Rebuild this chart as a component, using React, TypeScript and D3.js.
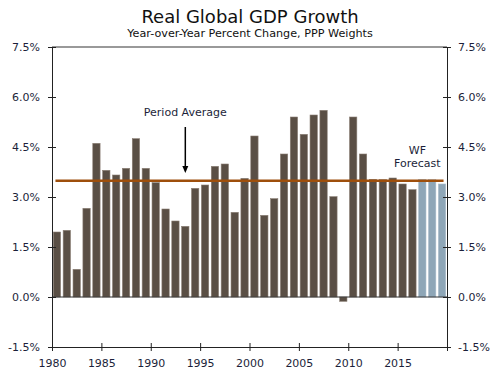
import React, { useEffect, useRef } from 'react';
import * as d3 from 'd3';

// yearly real global GDP growth (%), PPP weights
const years = d3.range(1980, 2020);
const growth = [
  1.95, 2.0, 0.83, 2.66, 4.61, 3.8, 3.66, 3.86, 4.75, 3.86,
  3.43, 2.64, 2.28, 2.12, 3.26, 3.36, 3.92, 3.99, 2.54, 3.56,
  4.83, 2.45, 2.95, 4.29, 5.4, 4.88, 5.46, 5.6, 3.01, -0.13,
  5.4, 4.29, 3.53, 3.52, 3.57, 3.39, 3.22, 3.53, 3.52, 3.39,
];
const forecastStart = 2017;
const periodAverage = 3.49;
const yTicks = [-1.5, 0, 1.5, 3, 4.5, 6, 7.5];
const xTicks = [1980, 1985, 1990, 1995, 2000, 2005, 2010, 2015, 2020];

const App = () => {
  const svgRef = useRef(null);

  useEffect(() => {
    const svg = d3.select(svgRef.current);
    svg.selectAll('*').remove();

    const width = 500;
    const height = 369;
    const margin = { top: 47, right: 53, bottom: 22, left: 52 };
    const innerW = width - margin.left - margin.right;
    const innerH = height - margin.top - margin.bottom;
    const font = 'DejaVu Sans, Verdana, sans-serif';
    const textColor = '#1c1f3a';

    svg.attr('width', width).attr('height', height).style('background', 'white');

    svg
      .append('text')
      .attr('x', 250)
      .attr('y', 23)
      .attr('text-anchor', 'middle')
      .attr('font-family', font)
      .attr('font-size', 18)
      .attr('fill', '#111')
      .text('Real Global GDP Growth');

    svg
      .append('text')
      .attr('x', 250)
      .attr('y', 37)
      .attr('text-anchor', 'middle')
      .attr('font-family', font)
      .attr('font-size', 11.2)
      .attr('fill', '#111')
      .text('Year-over-Year Percent Change, PPP Weights');

    const g = svg.append('g').attr('transform', `translate(${margin.left},${margin.top})`);

    const x = d3.scaleLinear().domain([1980, 2020]).range([0, innerW]);
    const band = d3
      .scaleBand()
      .domain(years.map(String))
      .range([0, innerW])
      .paddingInner(0.26)
      .paddingOuter(0.13);
    const y = d3.scaleLinear().domain([-1.5, 7.5]).range([innerH, 0]);

    // bars
    g.selectAll('.bar')
      .data(years)
      .enter()
      .append('rect')
      .attr('class', 'bar')
      .attr('x', (d) => band(String(d)))
      .attr('width', band.bandwidth())
      .attr('y', (d, i) => y(Math.max(0, growth[i])))
      .attr('height', (d, i) => Math.abs(y(growth[i]) - y(0)))
      .attr('fill', (d) => (d >= forecastStart ? '#8ea6b7' : '#5a4f45'))
      .attr('stroke', (d) => (d >= forecastStart ? '#a9bccb' : '#8a7e74'))
      .attr('stroke-width', 0.6);

    // zero line
    g.append('line')
      .attr('x1', 0)
      .attr('x2', innerW)
      .attr('y1', y(0))
      .attr('y2', y(0))
      .attr('stroke', '#333')
      .attr('stroke-width', 1);

    // period average
    g.append('line')
      .attr('x1', x(1980.35))
      .attr('x2', x(2019.65))
      .attr('y1', y(periodAverage))
      .attr('y2', y(periodAverage))
      .attr('stroke', '#9e4f0c')
      .attr('stroke-width', 2.5);

    // top frame
    g.append('line')
      .attr('x1', 0).attr('x2', innerW)
      .attr('y1', 0).attr('y2', 0)
      .attr('stroke', '#777').attr('stroke-width', 1.5);

    const xAxis = d3
      .axisBottom(x)
      .tickValues(xTicks)
      .tickSize(7)
      .tickSizeOuter(0)
      .tickFormat((d) => (d === 2020 ? '' : String(d)));
    const xg = g.append('g').attr('transform', `translate(0,${innerH})`).call(xAxis);
    xg.selectAll('.tick line').attr('y1', -4).attr('y2', 4).attr('stroke', '#222');
    xg.select('.domain').attr('stroke', '#222');
    xg.selectAll('text')
      .attr('y', 12)
      .attr('font-family', font)
      .attr('font-size', 11)
      .attr('fill', textColor);

    const fmt = (d) => `${d < 0 ? '-' : ''}${Math.abs(d).toFixed(1)}%`;
    const yl = g.append('g').call(d3.axisLeft(y).tickValues(yTicks).tickSize(4).tickSizeOuter(0).tickFormat(fmt));
    yl.selectAll('.tick line').attr('x1', -4).attr('x2', 4).attr('stroke', '#222');
    yl.select('.domain').attr('stroke', '#222');
    yl.selectAll('text')
      .attr('x', -12)
      .attr('font-family', font)
      .attr('font-size', 11)
      .attr('fill', textColor);

    const yr = g
      .append('g')
      .attr('transform', `translate(${innerW},0)`)
      .call(d3.axisRight(y).tickValues(yTicks).tickSize(4).tickSizeOuter(0).tickFormat(fmt));
    yr.selectAll('.tick line').attr('x1', -4).attr('x2', 4).attr('stroke', '#222');
    yr.select('.domain').attr('stroke', '#222');
    yr.selectAll('text')
      .attr('x', 11)
      .attr('font-family', font)
      .attr('font-size', 11)
      .attr('fill', textColor);

    // annotations
    g.append('text')
      .attr('x', x(1993.5))
      .attr('y', 69)
      .attr('text-anchor', 'middle')
      .attr('font-family', font)
      .attr('font-size', 11)
      .attr('fill', textColor)
      .text('Period Average');

    const ax = x(1993.5);
    g.append('line')
      .attr('x1', ax).attr('x2', ax)
      .attr('y1', 80).attr('y2', 121)
      .attr('stroke', '#000').attr('stroke-width', 1.5);
    g.append('path')
      .attr('d', `M${ax - 3},${119} L${ax + 3},${119} L${ax},${126} Z`)
      .attr('fill', '#000');

    const fx = x(2017);
    const fc = g
      .append('text')
      .attr('x', fx)
      .attr('y', 107)
      .attr('text-anchor', 'middle')
      .attr('font-family', font)
      .attr('font-size', 11)
      .attr('fill', textColor);
    fc.append('tspan').attr('x', fx).attr('dy', 0).text('WF');
    fc.append('tspan').attr('x', fx).attr('dy', 13).text('Forecast');
  }, []);

  return <svg ref={svgRef} style={{ display: 'block', position: 'absolute', left: 0, top: 0 }} />;
};

export default App;
